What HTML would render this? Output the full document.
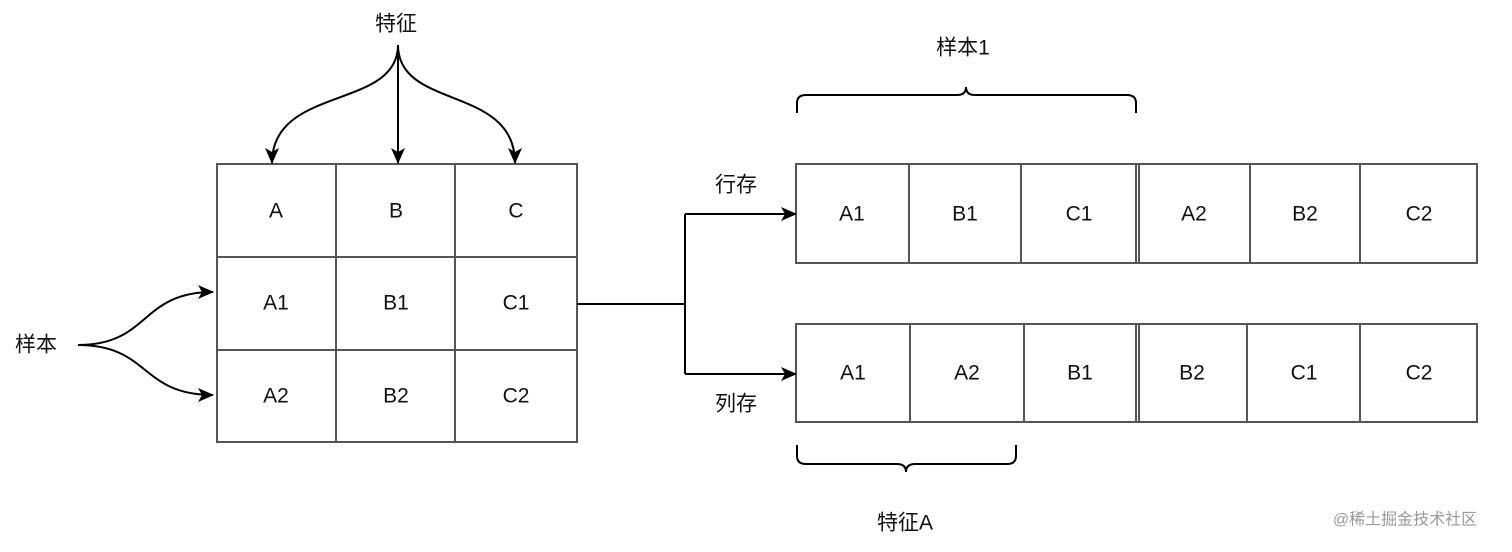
<!DOCTYPE html>
<html><head><meta charset="utf-8"><style>
body{margin:0;background:#fff;}
svg text{font-family:"Liberation Sans","Noto Sans CJK SC",sans-serif;font-size:21px;fill:#111;text-anchor:middle;dominant-baseline:central;}
</style></head><body>
<svg width="1512" height="547" viewBox="0 0 1512 547" xmlns="http://www.w3.org/2000/svg">
<defs><marker id="ar" markerWidth="18" markerHeight="16" refX="15" refY="8" orient="auto" markerUnits="userSpaceOnUse"><path d="M0,1 L16,8 L0,15 L4,8 Z" fill="#000"/></marker></defs>
<g fill="none" stroke="#555" stroke-width="2">
<rect x="217" y="164" width="360" height="278"/>
<line x1="336" y1="164" x2="336" y2="442"/><line x1="455" y1="164" x2="455" y2="442"/>
<line x1="217" y1="257" x2="577" y2="257"/><line x1="217" y1="350" x2="577" y2="350"/>
<rect x="796" y="164" width="681" height="99"/>
<line x1="909" y1="164" x2="909" y2="263"/><line x1="1021" y1="164" x2="1021" y2="263"/>
<line x1="1136" y1="164" x2="1136" y2="263"/><line x1="1139" y1="164" x2="1139" y2="263"/>
<line x1="1250" y1="164" x2="1250" y2="263"/><line x1="1360" y1="164" x2="1360" y2="263"/>
<rect x="796" y="324" width="681" height="98"/>
<line x1="910" y1="324" x2="910" y2="422"/><line x1="1024" y1="324" x2="1024" y2="422"/>
<line x1="1136" y1="324" x2="1136" y2="422"/><line x1="1139" y1="324" x2="1139" y2="422"/>
<line x1="1247" y1="324" x2="1247" y2="422"/><line x1="1360" y1="324" x2="1360" y2="422"/>
</g>
<g fill="none" stroke="#000" stroke-width="2">
<path d="M398,45 V163" marker-end="url(#ar)"/>
<path d="M398,45 C398,110 272,85 272,163" marker-end="url(#ar)"/>
<path d="M398,45 C398,110 515,85 515,163" marker-end="url(#ar)"/>
<path d="M78,345 C150,345 140,292 213,292" marker-end="url(#ar)"/>
<path d="M78,345 C150,345 140,395 213,395" marker-end="url(#ar)"/>
<path d="M577,304 H685"/>
<path d="M685,214 V374"/>
<path d="M685,214 H796" marker-end="url(#ar)"/>
<path d="M685,374 H796" marker-end="url(#ar)"/>
<path d="M797,113 V103 Q797,95 806,95 H957 Q966,95 966,87 Q966,95 975,95 H1127 Q1136,95 1136,103 V113"/>
<path d="M797,445 V456 Q797,464 806,464 H897 Q906,464 906,472 Q906,464 915,464 H1007 Q1016,464 1016,456 V445"/>
</g>
<text x="396" y="24">特征</text>
<text x="36" y="345">样本</text>
<text x="963" y="48">样本1</text>
<text x="905" y="523">特征A</text>
<text x="736" y="185">行存</text>
<text x="736" y="404">列存</text>
<text x="276" y="211">A</text><text x="396" y="211">B</text><text x="516" y="211">C</text>
<text x="276" y="303">A1</text><text x="396" y="303">B1</text><text x="516" y="303">C1</text>
<text x="276" y="396">A2</text><text x="396" y="396">B2</text><text x="516" y="396">C2</text>
<text x="852" y="214">A1</text><text x="965" y="214">B1</text><text x="1079" y="214">C1</text>
<text x="1194" y="214">A2</text><text x="1305" y="214">B2</text><text x="1419" y="214">C2</text>
<text x="853" y="373">A1</text><text x="967" y="373">A2</text><text x="1080" y="373">B1</text>
<text x="1192" y="373">B2</text><text x="1304" y="373">C1</text><text x="1419" y="373">C2</text>
<text x="1405" y="520" style="font-size:16px;fill:#999">@稀土掘金技术社区</text>
</svg>
</body></html>
